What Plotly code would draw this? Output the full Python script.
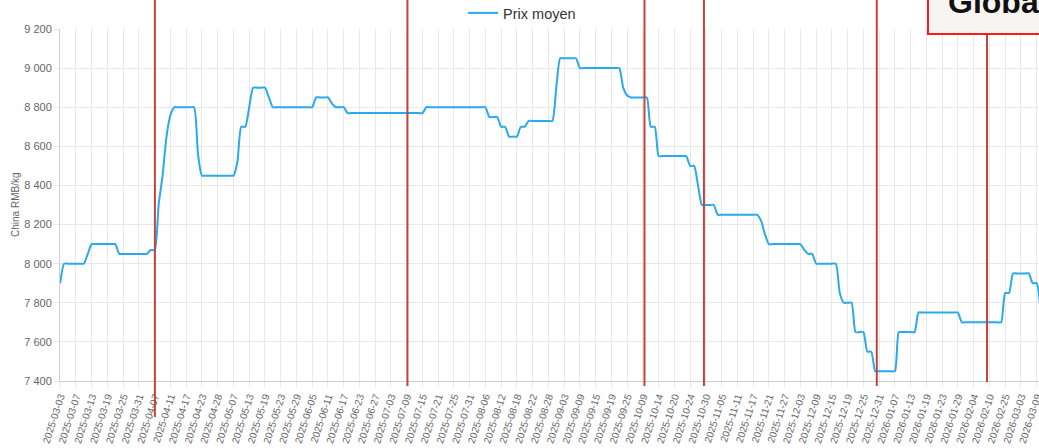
import plotly.graph_objects as go

# Tick labels (every 4th observation on a category axis)
tick_labels = [
    "2025-03-03", "2025-03-07", "2025-03-13", "2025-03-19", "2025-03-25", "2025-03-31",
    "2025-04-07", "2025-04-11", "2025-04-17", "2025-04-23", "2025-04-28", "2025-05-07",
    "2025-05-13", "2025-05-19", "2025-05-23", "2025-05-29", "2025-06-05", "2025-06-11",
    "2025-06-17", "2025-06-23", "2025-06-27", "2025-07-03", "2025-07-09", "2025-07-15",
    "2025-07-21", "2025-07-25", "2025-07-31", "2025-08-06", "2025-08-12", "2025-08-18",
    "2025-08-22", "2025-08-28", "2025-09-03", "2025-09-09", "2025-09-15", "2025-09-19",
    "2025-09-25", "2025-10-09", "2025-10-14", "2025-10-20", "2025-10-24", "2025-10-30",
    "2025-11-05", "2025-11-11", "2025-11-17", "2025-11-21", "2025-11-27", "2025-12-03",
    "2025-12-09", "2025-12-15", "2025-12-19", "2025-12-25", "2025-12-31", "2026-01-07",
    "2026-01-13", "2026-01-19", "2026-01-23", "2026-01-29", "2026-02-04", "2026-02-10",
    "2026-02-25", "2026-03-03", "2026-03-09",
]
label_step = 4

# Average price (RMB/kg), one value per observation
prix_moyen = [
    7900,
    8000, 8000, 8000, 8000, 8000, 8000,
    8050,
    8100, 8100, 8100, 8100, 8100, 8100, 8100,
    8050, 8050, 8050, 8050, 8050, 8050, 8050, 8050,
    8070, 8070,
    8300, 8450, 8650, 8760,
    8800, 8800, 8800, 8800, 8800, 8800,
    8560,
    8450, 8450, 8450, 8450, 8450, 8450, 8450, 8450, 8450,
    8520,
    8700, 8700,
    8800,
    8900, 8900, 8900, 8900,
    8850,
    8800, 8800, 8800, 8800, 8800, 8800, 8800, 8800, 8800, 8800, 8800,
    8850, 8850, 8850, 8850,
    8820,
    8800, 8800, 8800,
    8770, 8770, 8770, 8770, 8770, 8770, 8770, 8770, 8770, 8770,
    8770, 8770, 8770, 8770, 8770, 8770, 8770, 8770, 8770, 8770,
    8800, 8800, 8800, 8800, 8800, 8800, 8800, 8800,
    8800, 8800, 8800, 8800, 8800, 8800, 8800, 8800,
    8750, 8750, 8750,
    8700, 8700,
    8650, 8650, 8650,
    8700, 8700,
    8730, 8730, 8730, 8730, 8730, 8730, 8730,
    8900,
    9050, 9050, 9050, 9050, 9050,
    9000, 9000, 9000, 9000, 9000, 9000, 9000, 9000, 9000, 9000, 9000,
    8900, 8860,
    8850, 8850, 8850, 8850, 8850,
    8700, 8700,
    8550, 8550, 8550, 8550, 8550, 8550, 8550, 8550,
    8500, 8500,
    8400,
    8300, 8300, 8300, 8300,
    8250, 8250, 8250, 8250, 8250, 8250, 8250, 8250, 8250, 8250, 8250,
    8220, 8150,
    8100, 8100, 8100, 8100, 8100, 8100, 8100, 8100, 8100,
    8070,
    8050, 8050,
    8000, 8000, 8000, 8000, 8000, 8000,
    7850,
    7800, 7800, 7800,
    7650, 7650, 7650,
    7550, 7550,
    7450, 7450, 7450, 7450, 7450, 7450,
    7650, 7650, 7650, 7650, 7650,
    7750, 7750, 7750, 7750, 7750, 7750, 7750, 7750, 7750, 7750, 7750,
    7700, 7700, 7700, 7700, 7700, 7700, 7700, 7700, 7700, 7700, 7700,
    7850, 7850,
    7950, 7950, 7950, 7950, 7950,
    7900, 7900,
    7750,
]

# Event markers (observation index along the axis)
event_positions = [24.05, 88.2, 148.4, 163.5, 207.4, 235.4]
event_bottoms = [-0.102, -0.014, -0.014, -0.014, -0.014, -0.003]
event_tops = [1.1, 1.1, 1.1, 1.1, 1.1, 0.986]

x_index = list(range(len(prix_moyen)))
tick_positions = [i * label_step for i in range(len(tick_labels))]

FONT = "Liberation Sans, Arial, sans-serif"
GRID = "#e8e8e8"
TICK_COLOR = "#666666"

fig = go.Figure()
fig.add_trace(go.Scatter(
    x=x_index, y=prix_moyen, mode="lines", name="Prix moyen",
    line=dict(color="#2aa9ec", width=2, shape="spline", smoothing=0.6),
    hoverinfo="skip",
))

shapes = []
for xp, yb, yt in zip(event_positions, event_bottoms, event_tops):
    shapes.append(dict(type="line", xref="x", yref="paper", x0=xp, x1=xp, y0=yb, y1=yt,
                       line=dict(color="#c0443c", width=2), layer="above"))

# Label box partially visible at top-right
shapes.append(dict(type="rect", xref="paper", yref="paper",
                   x0=0.8866, x1=1.2, y0=0.9858, y1=1.3,
                   line=dict(color="#ff1a1a", width=2), fillcolor="#f7f5f1", layer="above"))

fig.update_layout(
    width=1039, height=448,
    margin=dict(l=60, r=0, t=29, b=67, autoexpand=False),
    paper_bgcolor="white", plot_bgcolor="white",
    font=dict(family=FONT, color=TICK_COLOR),
    separators=", ",
    showlegend=True,
    legend=dict(orientation="h", x=0.4117, xanchor="left", y=1.091, yanchor="top",
                font=dict(size=14.5, color="#333333", family=FONT),
                bgcolor="rgba(0,0,0,0)"),
    shapes=shapes,
    annotations=[
        dict(text="China RMB/kg", xref="paper", yref="paper", x=-0.046, y=0.5,
             xanchor="center", yanchor="middle", textangle=-90, showarrow=False,
             font=dict(size=10, color=TICK_COLOR, family=FONT)),
        dict(text="<b>Global</b>", xref="paper", yref="paper", x=0.9045, y=1.02,
             xanchor="left", yanchor="bottom", showarrow=False,
             font=dict(size=32, color="#111111", family=FONT)),
    ],
)

fig.update_xaxes(
    range=[-0.05, 248.6], automargin=False, ticklabeloverflow="allow",
    tickmode="array", tickvals=tick_positions, ticktext=tick_labels,
    tickangle=-72, tickfont=dict(size=10, color=TICK_COLOR, family=FONT),
    showgrid=True, gridcolor=GRID, gridwidth=1,
    ticks="outside", ticklen=5, tickcolor=GRID,
    showline=True, linecolor="#cfcfcf", linewidth=1,
    zeroline=False, fixedrange=True,
)
fig.update_yaxes(
    range=[7400, 9200], dtick=200, tick0=7400, automargin=False,
    tickformat=",d",
    tickfont=dict(size=11, color=TICK_COLOR, family=FONT),
    showgrid=True, gridcolor=GRID, gridwidth=1,
    ticks="outside", ticklen=5, tickcolor=GRID,
    showline=True, linecolor="#cfcfcf", linewidth=1,
    zeroline=False, fixedrange=True,
)

fig.write_html(
    "out.html",
    config={"displayModeBar": False},
    post_script="document.body.style.margin='0';document.body.style.overflow='hidden';",
)
